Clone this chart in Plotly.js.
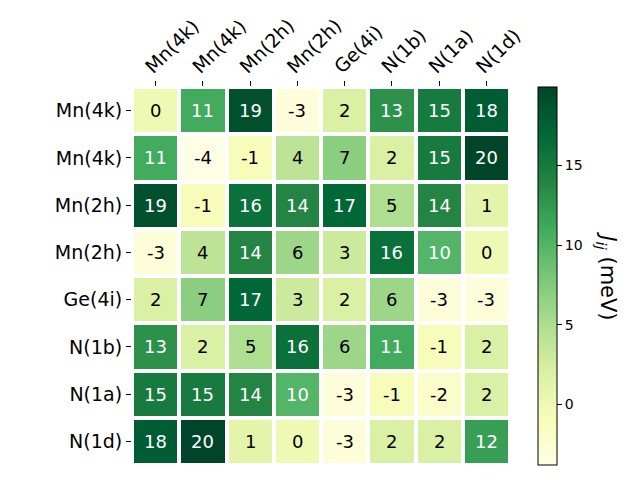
<!DOCTYPE html>
<html>
<head>
<meta charset="utf-8">
<script src="https://cdn.plot.ly/plotly-3.0.1.min.js"></script>
<style>html,body{margin:0;padding:0;background:#fff;}#chart{width:640px;height:480px;}</style>
</head>
<body>
<div id="chart"></div>
<script>
// Tick labels (columns and rows share the same site labels)
const colLabels = ["Mn(4k)", "Mn(4k)", "Mn(2h)", "Mn(2h)", "Ge(4i)", "N(1b)", "N(1a)", "N(1d)"];
const rowLabels = ["Mn(4k)", "Mn(4k)", "Mn(2h)", "Mn(2h)", "Ge(4i)", "N(1b)", "N(1a)", "N(1d)"];

// Exchange interaction values J_ij (meV), one array per row
const rowMn4k_a = [0, 11, 19, -3, 2, 13, 15, 18];
const rowMn4k_b = [11, -3.82, -1, 4, 7, 2, 15, 19.94];
const rowMn2h_a = [19, -1, 16, 14, 17, 5, 14, 1];
const rowMn2h_b = [-3, 4, 14, 6, 3, 16, 10, 0];
const rowGe4i   = [2, 7, 17, 3, 2, 6, -3, -3];
const rowN1b    = [13, 2, 5, 16, 6, 11, -1, 2];
const rowN1a    = [15, 15, 14, 10, -3, -1, -2, 2];
const rowN1d    = [18, 19.94, 1, 0, -3, 2, 2, 12];

const z = [rowMn4k_a, rowMn4k_b, rowMn2h_a, rowMn2h_b, rowGe4i, rowN1b, rowN1a, rowN1d];

const colorbarTicks = [0, 5, 10, 15];

const ylgn = [
  [0.000, "#ffffe5"], [0.125, "#f7fcb9"], [0.250, "#d9f0a3"], [0.375, "#addd8e"],
  [0.500, "#78c679"], [0.625, "#41ab5d"], [0.750, "#238443"], [0.875, "#006837"],
  [1.000, "#004529"]
];

const xIdx = colLabels.map((_, i) => i);
const yIdx = rowLabels.map((_, i) => i);

let zmin = Infinity, zmax = -Infinity;
z.forEach(r => r.forEach(v => { zmin = Math.min(zmin, v); zmax = Math.max(zmax, v); }));
const threshold = (zmin + zmax) / 2;

const annotations = [];
z.forEach((r, i) => r.forEach((v, j) => {
  annotations.push({
    x: j, y: i, xref: "x", yref: "y",
    text: String(Math.round(v)),
    showarrow: false,
    font: {family: "DejaVu Sans", size: 18, color: v > threshold ? "white" : "black"}
  });
}));

annotations.push({
  xref: "paper", yref: "paper", x: 1.2556, y: 0.5,
  xanchor: "center", yanchor: "middle",
  text: "<i>J</i><sub><i>ij</i></sub> (meV)",
  textangle: 90, showarrow: false,
  font: {family: "DejaVu Sans", size: 21, color: "black"}
});

const trace = {
  type: "heatmap",
  z: z, x: xIdx, y: yIdx,
  colorscale: ylgn,
  zmin: zmin, zmax: zmax,
  xgap: 4, ygap: 4,
  hoverinfo: "skip",
  colorbar: {
    x: 1.074, xanchor: "left", xpad: 0,
    y: 0.5, yanchor: "middle", ypad: 0,
    len: 1, lenmode: "fraction",
    thickness: 19, thicknessmode: "pixels",
    outlinewidth: 1, outlinecolor: "black",
    ticks: "outside", ticklen: 5, tickwidth: 1, tickcolor: "black",
    tickvals: colorbarTicks,
    tickfont: {family: "DejaVu Sans", size: 14, color: "black"}
  }
};

const layout = {
  width: 640, height: 480,
  margin: {l: 132, r: 130, t: 87, b: 15, autoexpand: false},
  paper_bgcolor: "white", plot_bgcolor: "white",
  font: {family: "DejaVu Sans", color: "black"},
  xaxis: {
    side: "top", range: [-0.5, 7.5],
    tickvals: xIdx, ticktext: colLabels,
    tickangle: -45,
    ticklabelshift: -9, ticklabelstandoff: -4,
    ticks: "outside", ticklen: 5, tickwidth: 1, tickcolor: "black",
    showgrid: false, zeroline: false, showline: false,
    tickfont: {family: "DejaVu Sans", size: 19, color: "black"}
  },
  yaxis: {
    range: [7.5, -0.5],
    tickvals: yIdx, ticktext: rowLabels,
    ticks: "outside", ticklen: 5, tickwidth: 1, tickcolor: "black",
    showgrid: false, zeroline: false, showline: false,
    tickfont: {family: "DejaVu Sans", size: 19, color: "black"}
  },
  annotations: annotations,
  showlegend: false
};

Plotly.newPlot("chart", [trace], layout, {staticPlot: true, displayModeBar: false});
</script>
</body>
</html>
